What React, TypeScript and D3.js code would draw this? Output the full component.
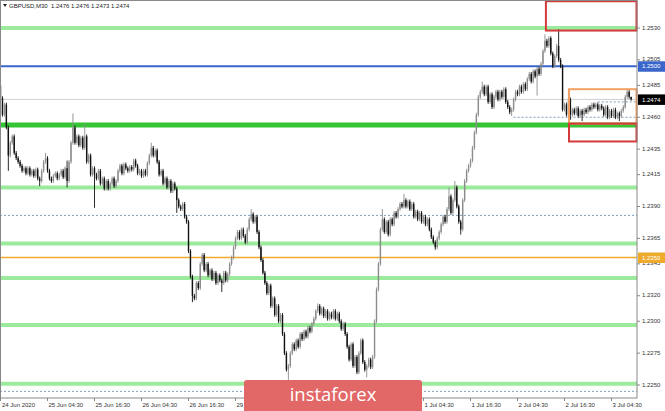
import React from 'react';
import * as d3 from 'd3';

// ---- data (GBPUSD M30) ----
const firstOpen = 1.2485;
const closes = [
  // 24 Jun 16:30 ...
  1.2475, 1.2462, 1.2470, 1.2452, 1.2430, 1.2440, 1.2445, 1.2432, 1.2428, 1.2425, 1.2422, 1.2418,
  1.2420, 1.2416, 1.2420, 1.2415, 1.2418, 1.2414, 1.2419, 1.2412, 1.2410, 1.2418, 1.2425, 1.2428,
  // 25 Jun 04:30
  1.2418, 1.2412, 1.2410, 1.2414, 1.2416, 1.2412, 1.2415, 1.2418, 1.2413, 1.2420, 1.2410, 1.2425,
  1.2440, 1.2452, 1.2440, 1.2445, 1.2438, 1.2444, 1.2436, 1.2445, 1.2425, 1.2430, 1.2415, 1.2420,
  // 25 Jun 16:30
  1.2415, 1.2412, 1.2418, 1.2408, 1.2412, 1.2404, 1.2410, 1.2404, 1.2408, 1.2412, 1.2406, 1.2410,
  1.2418, 1.2422, 1.2416, 1.2423, 1.2420, 1.2418, 1.2421, 1.2419, 1.2426, 1.2422, 1.2416, 1.2418,
  // 26 Jun 04:30
  1.2414, 1.2418, 1.2415, 1.2424, 1.2430, 1.2436, 1.2430, 1.2434, 1.2425, 1.2415, 1.2418, 1.2408,
  1.2412, 1.2405, 1.2410, 1.2402, 1.2408, 1.2404, 1.2395, 1.2390, 1.2388, 1.2392, 1.2382, 1.2378,
  // 26 Jun 16:30
  1.2355, 1.2335, 1.2320, 1.2318, 1.2330, 1.2326, 1.2345, 1.2352, 1.2340, 1.2345, 1.2336, 1.2340,
  1.2333, 1.2338, 1.2330, 1.2336, 1.2332, 1.2330, 1.2338, 1.2332, 1.2337, 1.2345, 1.2350, 1.2358,
  // 29 Jun 04:30
  1.2365, 1.2370, 1.2365, 1.2372, 1.2367, 1.2362, 1.2372, 1.2380, 1.2384, 1.2378, 1.2382, 1.2370,
  1.2358, 1.2348, 1.2338, 1.2330, 1.2322, 1.2328, 1.2312, 1.2318, 1.2305, 1.2312, 1.2300, 1.2305,
  // 29 Jun 16:30
  1.2290, 1.2275, 1.2262, 1.2265, 1.2275, 1.2282, 1.2278, 1.2285, 1.2280, 1.2290, 1.2286, 1.2292,
  1.2288, 1.2295, 1.2292, 1.2298, 1.2302, 1.2308, 1.2312, 1.2306, 1.2310, 1.2304, 1.2308, 1.2302,
  // 30 Jun 04:30
  1.2306, 1.2303, 1.2308, 1.2302, 1.2306, 1.2300, 1.2294, 1.2298, 1.2290, 1.2280, 1.2270, 1.2282,
  1.2265, 1.2272, 1.2260, 1.2275, 1.2285, 1.2268, 1.2262, 1.2265, 1.2270, 1.2264, 1.2272, 1.2300,
  // 30 Jun 16:30
  1.2325, 1.2345, 1.2372, 1.2380, 1.2370, 1.2378, 1.2368, 1.2380, 1.2376, 1.2385, 1.2382, 1.2388,
  1.2392, 1.2390, 1.2395, 1.2390, 1.2394, 1.2388, 1.2392, 1.2382, 1.2386, 1.2380, 1.2385, 1.2378,
  // 1 Jul 04:30
  1.2382, 1.2376, 1.2380, 1.2372, 1.2366, 1.2362, 1.2358, 1.2365, 1.2370, 1.2376, 1.2382, 1.2378,
  1.2388, 1.2398, 1.2385, 1.2395, 1.2405, 1.2390, 1.2378, 1.2372, 1.2395, 1.2410, 1.2418, 1.2422,
  // 1 Jul 16:30
  1.2426, 1.2436, 1.2448, 1.2462, 1.2476, 1.2480, 1.2484, 1.2478, 1.2484, 1.2472, 1.2478, 1.2468,
  1.2476, 1.2480, 1.2474, 1.2480, 1.2476, 1.2482, 1.2472, 1.2468, 1.2464, 1.2466, 1.2474, 1.2480,
  // 2 Jul 04:30
  1.2478, 1.2484, 1.2480, 1.2486, 1.2482, 1.2490, 1.2494, 1.2488, 1.2496, 1.2492, 1.2498, 1.2494,
  1.2502, 1.2512, 1.2520, 1.2516, 1.2522, 1.2510, 1.2500, 1.2508, 1.2516, 1.2505, 1.2500, 1.2466,
  // 2 Jul 16:30
  1.2470, 1.2462, 1.2474, 1.2462, 1.2466, 1.2463, 1.2467, 1.2461, 1.2465, 1.2462, 1.2466, 1.2464,
  1.2468, 1.2466, 1.2470, 1.2468, 1.2470, 1.2466, 1.2469, 1.2467, 1.2462, 1.2468, 1.2460, 1.2465,
  // 3 Jul 04:30
  1.2461, 1.2466, 1.2460, 1.2463, 1.2461, 1.2465, 1.2468, 1.2476, 1.2480, 1.2476, 1.2474,
];
const highSpikes: [number, number][] = [
  [0, 1.2493], [23, 1.2432], [34, 1.2426], [37, 1.2463], [43, 1.2455], [77, 1.2440], [128, 1.2388],
  [162, 1.2314], [195, 1.2388], [206, 1.2400], [229, 1.2405], [232, 1.2410], [246, 1.2488],
  [278, 1.2525], [285, 1.2529], [290, 1.2481], [320, 1.2482], [322, 1.2476],
];
const lowSpikes: [number, number][] = [
  [4, 1.2418], [20, 1.2406], [34, 1.2405], [48, 1.2389], [90, 1.2385], [98, 1.2315], [113, 1.2323],
  [147, 1.2254], [187, 1.2256], [222, 1.2356], [235, 1.2368], [261, 1.2461], [274, 1.2477],
  [291, 1.2458], [297, 1.2457], [316, 1.2457], [322, 1.2473],
];
// ticks hidden under the watermark in the reference are left out
const timeTickBars = [0, 24, 48, 72, 96, 120, 216, 240, 264, 288, 312];
const timeTickLabels = [
  '24 Jun 2020', '25 Jun 04:30', '25 Jun 16:30', '26 Jun 04:30', '26 Jun 16:30', '29 Jun 04:30',
  '1 Jul 04:30', '1 Jul 16:30', '2 Jul 04:30', '2 Jul 16:30', '3 Jul 04:30',
];
const priceTicks = [1.2530, 1.2505, 1.2485, 1.2460, 1.2435, 1.2415, 1.2390, 1.2365, 1.2345, 1.2320, 1.2300, 1.2275, 1.2250];
const lightGreenLevels = [1.2530, 1.2405, 1.2361, 1.2334, 1.2297, 1.2251];
const strongGreenLevel = 1.2454;
const blueLevel = 1.2500;
const orangeLevel = 1.2350;
const bidLevel = 1.2474;
const dottedLevels = [1.2383, 1.2245];
const partialDotted: [number, number][] = [[262, 1.2460], [305, 1.2472]];
const boxes = [
  { from: 278.5, top: 1.2551, bottom: 1.2528, color: '#d43a3a' },
  { from: 290.3, top: 1.2482, bottom: 1.2455, color: '#f2a063' },
  { from: 290.3, top: 1.2455, bottom: 1.2441, color: '#d43a3a' },
];
const header = 'GBPUSD,M30  1.2476 1.2476 1.2473 1.2474';

const W = 665, H = 411;
const PLOT_R = 637, PLOT_B = 398;

export default function App() {
  const x = d3.scaleLinear().domain([0, closes.length - 1]).range([0.5, 631.1]);
  const y = d3.scaleLinear().domain([1.2250, 1.2530]).range([385, 28]);
  const hiMap = new Map(highSpikes);
  const loMap = new Map(lowSpikes);
  const bars = closes.map((c, i) => {
    const o = i === 0 ? firstOpen : closes[i - 1];
    const top = Math.max(o, c), bot = Math.min(o, c);
    const h = hiMap.has(i) ? Math.max(hiMap.get(i)!, top) : top + 0.00015;
    const l = loMap.has(i) ? Math.min(loMap.get(i)!, bot) : bot - 0.00015;
    return { i, o, c, h, l };
  });
  const font = "'Liberation Sans', Arial, sans-serif";
  const tag = (v: number, bg: string, fg: string) => (
    <g key={'tag' + v}>
      <rect x={PLOT_R + 1} y={y(v) - 5} width={27} height={10.5} fill={bg} />
      <text x={PLOT_R + 5} y={y(v) + 2.2} fontSize={6} fill={fg} fontFamily={font}>{v.toFixed(4)}</text>
    </g>
  );
  return (
    <svg width={W} height={H} style={{ position: 'absolute', left: 0, top: 0, background: '#fff' }}>
      <rect x={0} y={0} width={W} height={H} fill="#fff" />
      {/* levels */}
      <line x1={0} x2={PLOT_R} y1={y(bidLevel)} y2={y(bidLevel)} stroke="#cfcfcf" strokeWidth={1} />
      {dottedLevels.map((v) => (
        <line key={'d' + v} x1={0} x2={PLOT_R} y1={y(v)} y2={y(v)} stroke="#5f86ad" strokeWidth={0.8} strokeDasharray="2,2" />
      ))}
      {partialDotted.map(([i, v]) => (
        <line key={'pd' + v} x1={x(i)} x2={PLOT_R} y1={y(v)} y2={y(v)} stroke="#5f86ad" strokeWidth={0.8} strokeDasharray="2,2" />
      ))}
      {lightGreenLevels.map((v) => (
        <line key={'g' + v} x1={0} x2={PLOT_R} y1={y(v)} y2={y(v)} stroke="#9ceb9c" strokeWidth={4} />
      ))}
      <line x1={0} x2={PLOT_R} y1={y(strongGreenLevel)} y2={y(strongGreenLevel)} stroke="#35c435" strokeWidth={5} />
      <line x1={0} x2={PLOT_R} y1={y(blueLevel)} y2={y(blueLevel)} stroke="#3a66cc" strokeWidth={2} />
      <line x1={0} x2={PLOT_R} y1={y(orangeLevel)} y2={y(orangeLevel)} stroke="#eeaa2a" strokeWidth={1.5} />
      {/* candles */}
      {bars.map((b) => {
        const bull = b.c >= b.o;
        const col = bull ? '#8c8c8c' : '#111';
        const yt = y(Math.max(b.o, b.c)), yb = y(Math.min(b.o, b.c));
        return (
          <g key={b.i}>
            <line x1={x(b.i)} x2={x(b.i)} y1={y(b.h)} y2={y(b.l)} stroke={col} strokeWidth={0.9} />
            <rect x={x(b.i) - 0.7} y={yt} width={1.4} height={Math.max(0.8, yb - yt)} fill={col} />
          </g>
        );
      })}
      {/* boxes */}
      {boxes.map((b, k) => (
        <rect key={'b' + k} x={x(b.from)} y={y(b.top)} width={PLOT_R - 0.5 - x(b.from)} height={y(b.bottom) - y(b.top)}
          fill="none" stroke={b.color} strokeWidth={2} />
      ))}
      {/* frame & axes */}
      <rect x={0.5} y={0.5} width={PLOT_R - 0.5} height={PLOT_B - 0.5} fill="none" stroke="#888" strokeWidth={1} />
      {priceTicks.map((v) => (
        <g key={'pt' + v}>
          <line x1={PLOT_R} x2={PLOT_R + 3} y1={y(v)} y2={y(v)} stroke="#888" />
          <text x={PLOT_R + 5} y={y(v) + 1.5} fontSize={6} fill="#333" fontFamily={font}>{v.toFixed(4)}</text>
        </g>
      ))}
      {tag(blueLevel, '#3a66cc', '#fff')}
      {tag(bidLevel, '#000', '#fff')}
      {tag(orangeLevel, '#eeaa2a', '#fff')}
      {timeTickBars.map((bi, k) => (
        <g key={'tt' + bi}>
          <line x1={x(bi)} x2={x(bi)} y1={PLOT_B} y2={PLOT_B + 3} stroke="#888" />
          <text x={k === 0 ? 2 : x(bi) + 1} y={406.5} fontSize={6} fill="#333" fontFamily={font}>{timeTickLabels[k]}</text>
        </g>
      ))}
      {/* header */}
      <path d="M3,4 L7,4 L5,7 Z" fill="#222" />
      <text x={9} y={7.5} fontSize={6} fill="#222" fontFamily={font} style={{ whiteSpace: 'pre' }}>{header}</text>
      {/* watermark */}
      <rect x={244} y={380} width={178} height={34} rx={3} fill="#e26767" />
      <text x={333} y={401} fontSize={18.5} fill="#fff" textAnchor="middle" fontFamily="'Open Sans', sans-serif">instaforex</text>
    </svg>
  );
}
